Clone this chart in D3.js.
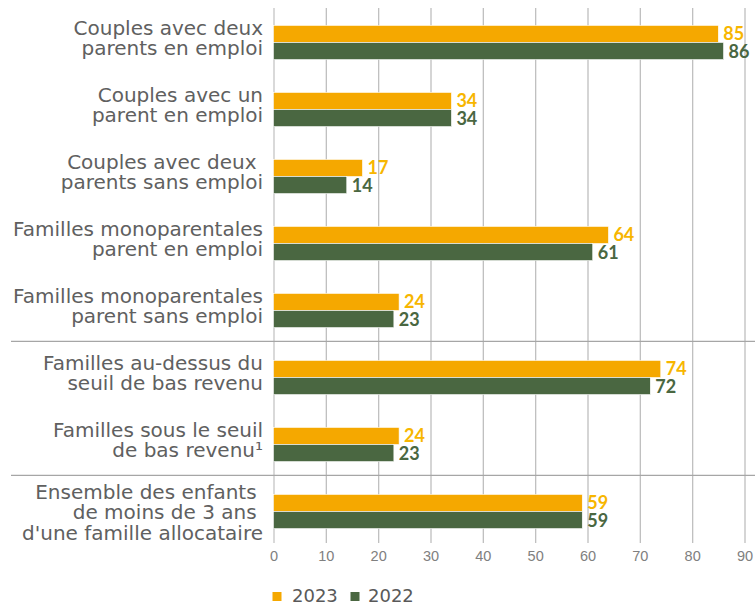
<!DOCTYPE html>
<html>
<head>
<meta charset="utf-8">
<script src="https://cdn.jsdelivr.net/npm/d3@7"></script>
<style>
  html, body { margin: 0; padding: 0; background: #fff; }
  svg { display: block; }
</style>
</head>
<body>
<svg id="chart"></svg>
<script>
// categories (label lines) and values
const categories = [
  ["Couples avec deux", "parents en emploi"],
  ["Couples avec un", "parent en emploi"],
  ["Couples avec deux ", "parents sans emploi"],
  ["Familles monoparentales", "parent en emploi"],
  ["Familles monoparentales", "parent sans emploi"],
  ["Familles au-dessus du", "seuil de bas revenu"],
  ["Familles sous le seuil", "de bas revenu\u00b9"],
  ["Ensemble des enfants ", "de moins de 3 ans ", "d'une famille allocataire"]
];
const values2023 = [85, 34, 17, 64, 24, 74, 24, 59];
const values2022 = [86, 34, 14, 61, 23, 72, 23, 59];
const seriesNames = ["2023", "2022"];
const xTicks = [0, 10, 20, 30, 40, 50, 60, 70, 80, 90];
const separatorsAfter = [4, 6];

const width = 755, height = 604;
const margin = {top: 8, right: 10.5, bottom: 61, left: 273.5};

const barColor = {"2023": "#F5A800", "2022": "#4A6741"};
const labelColor = {"2023": "#F7B600", "2022": "#4A6741"};

const keys = categories.map((d, i) => i);

const x = d3.scaleLinear()
  .domain([0, 90])
  .range([margin.left, width - margin.right]);

const y = d3.scaleBand()
  .domain(keys)
  .range([9, 545])
  .padding(0);

const barH = y.step() * 0.255;

const svg = d3.select("#chart")
  .attr("width", width)
  .attr("height", height)
  .attr("viewBox", [0, 0, width, height]);

// vertical grid + tick labels
const xAxis = g => g
  .attr("transform", `translate(0,${height - margin.bottom})`)
  .call(d3.axisBottom(x).tickValues(xTicks).tickSize(-(height - margin.bottom - margin.top)).tickPadding(8))
  .call(g => g.select(".domain").remove())
  .call(g => g.selectAll(".tick line")
    .attr("stroke", d => d === 0 ? "#D9D9D9" : "#BFBFBF")
    .attr("stroke-width", d => d === 0 ? 2 : 1.3))
  .call(g => g.selectAll(".tick text")
    .attr("fill", "#808080")
    .attr("font-family", "Liberation Sans, Arial, sans-serif")
    .attr("font-size", 14.5));

svg.append("g").call(xAxis);

// group separators
svg.append("g")
  .selectAll("line")
  .data(separatorsAfter)
  .join("line")
    .attr("x1", 11)
    .attr("x2", width)
    .attr("y1", d => y(d + 1) - 2.7)
    .attr("y2", d => y(d + 1) - 2.7)
    .attr("stroke", "#A6A6A6")
    .attr("stroke-width", 1.3);

// bars + value labels
const series = seriesNames.map((name, s) => ({
  name,
  values: keys.map(i => s === 0 ? values2023[i] : values2022[i])
}));

series.forEach((ser, s) => {
  const g = svg.append("g");
  g.selectAll("rect")
    .data(ser.values)
    .join("rect")
      .attr("x", x(0))
      .attr("y", (d, i) => y(i) + y.step() / 2 - barH + s * barH)
      .attr("width", d => x(d) - x(0))
      .attr("height", barH)
      .attr("fill", barColor[ser.name])
      .attr("stroke", "#fff")
      .attr("stroke-width", 0.6);

  g.selectAll("text")
    .data(ser.values)
    .join("text")
      .attr("x", d => x(d) + 5)
      .attr("y", (d, i) => y(i) + y.step() / 2 - barH + s * barH + barH / 2 + 6.5)
      .attr("fill", labelColor[ser.name])
      .attr("font-family", "Lato, sans-serif")
      .attr("font-weight", 700)
      .attr("font-size", 18)
      .text(d => d);
});

// category labels
const lineGap = 20.5;
svg.append("g")
  .selectAll("text")
  .data(categories)
  .join("text")
    .attr("text-anchor", "end")
    .attr("fill", "#606060")
    .attr("font-family", "DejaVu Sans, sans-serif")
    .attr("font-size", 20)
    .attr("xml:space", "preserve")
    .each(function(lines, i) {
      const c = y(i) + y.step() / 2;
      const n = lines.length;
      d3.select(this).selectAll("tspan")
        .data(lines)
        .join("tspan")
          .attr("x", 263)
          .attr("y", (l, j) => c + lineGap * (j - (n - 1) / 2) + 2.5 + (n - 2) * 5)
          .text(l => l);
    });

// legend
const legend = svg.append("g")
  .selectAll("g")
  .data(seriesNames)
  .join("g")
    .attr("transform", (d, i) => `translate(${272.5 + i * 78},0)`);

legend.append("rect")
  .attr("y", 592)
  .attr("width", 9)
  .attr("height", 9)
  .attr("fill", d => barColor[d]);

legend.append("text")
  .attr("x", d => d === "2023" ? 19.5 : 17.5)
  .attr("y", 601.5)
  .attr("fill", "#595959")
  .attr("font-family", "DejaVu Sans, sans-serif")
  .attr("font-size", 18)
  .text(d => d);
</script>
</body>
</html>
